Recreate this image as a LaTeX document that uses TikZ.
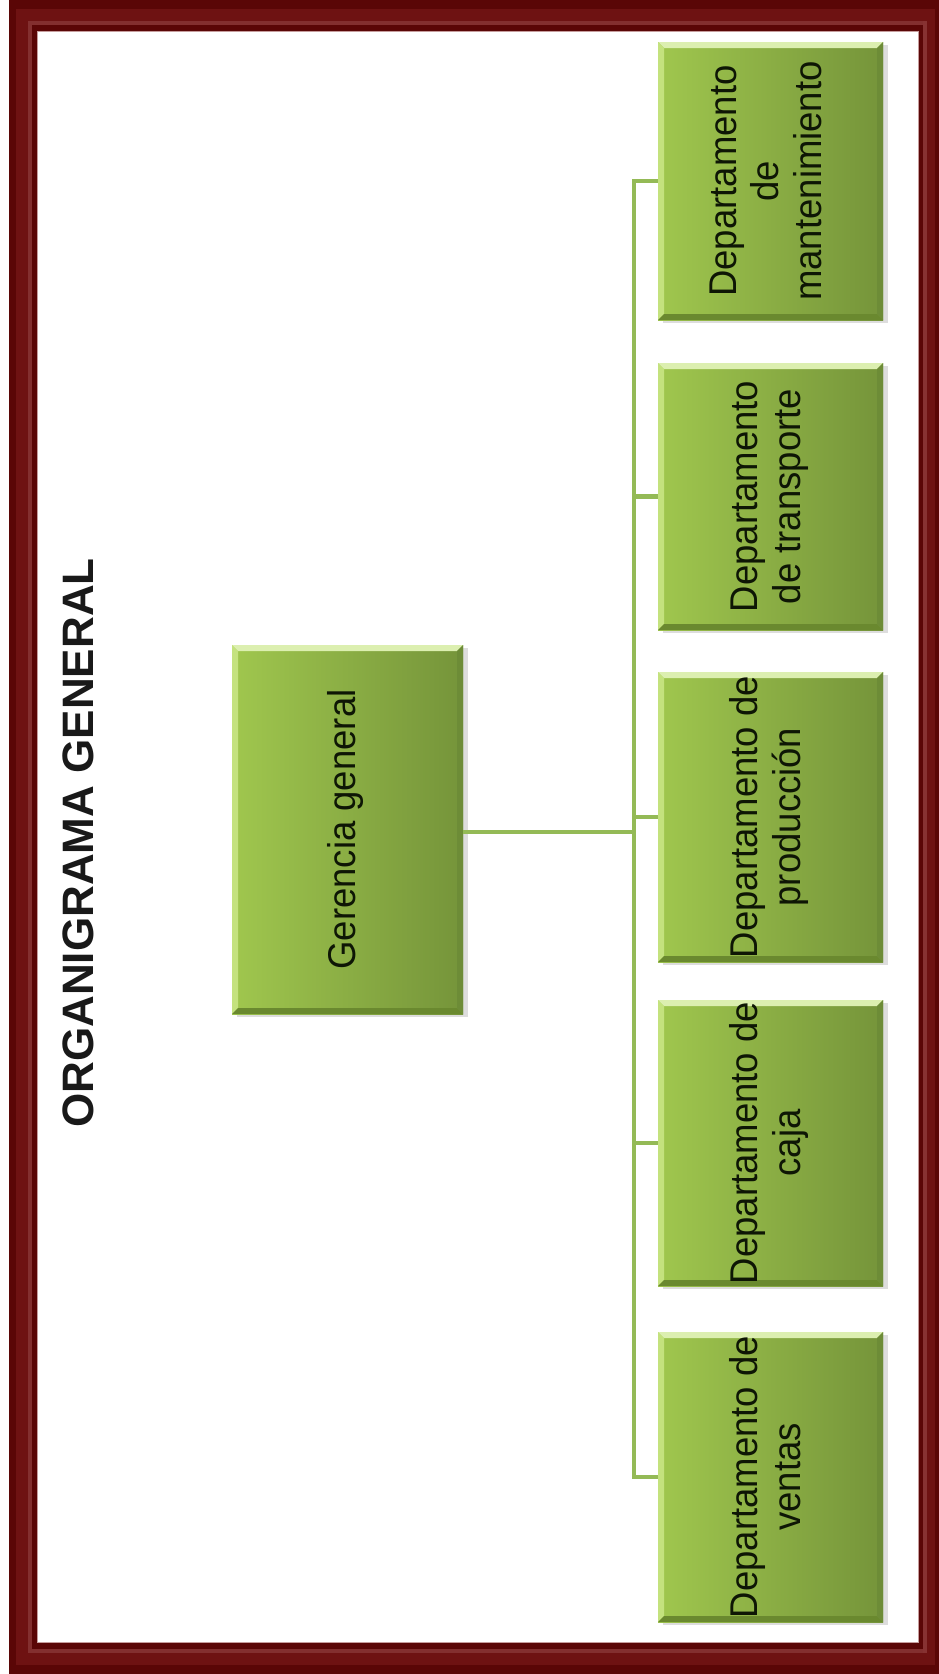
\documentclass[tikz,border=0pt]{standalone}
\usepackage{fontspec}
\setmainfont{Liberation Sans}
\usetikzlibrary{shadows}

\definecolor{frameDark}{HTML}{5A0606}
\definecolor{frameMid}{HTML}{6E1212}
\definecolor{frameLight}{HTML}{8E3A3A}
\definecolor{boxL}{HTML}{A0C74E}
\definecolor{boxR}{HTML}{75943A}
\definecolor{bevTop}{HTML}{DCEFB0}
\definecolor{bevLeft}{HTML}{C4E27E}
\definecolor{bevBottom}{HTML}{6A892F}
\definecolor{bevRight}{HTML}{6D8C37}
\definecolor{connG}{HTML}{94BA56}
\definecolor{txt}{HTML}{0E1605}

\newcommand{\boxfont}{\fontsize{36.5}{40}\selectfont}
\newcommand{\lbl}[1]{\rotatebox{90}{\scalebox{1}[1.06]{\boxfont\begin{tabular}{@{}c@{}}#1\end{tabular}}}}

\begin{document}
\begin{tikzpicture}[x=1pt, y=-1pt,
  box/.style={rectangle, inner sep=0pt, text=txt,
    left color=boxL, right color=boxR,
    drop shadow={shadow xshift=5pt, shadow yshift=-3pt, opacity=0.22, fill=black!60},
    path picture={
      \fill[bevTop] (path picture bounding box.north west)
        -- (path picture bounding box.north east)
        -- ([xshift=-6pt,yshift=-6pt]path picture bounding box.north east)
        -- ([xshift=6pt,yshift=-6pt]path picture bounding box.north west) -- cycle;
      \fill[bevLeft] (path picture bounding box.north west)
        -- ([xshift=6pt,yshift=-6pt]path picture bounding box.north west)
        -- ([xshift=6pt,yshift=6pt]path picture bounding box.south west)
        -- (path picture bounding box.south west) -- cycle;
      \fill[bevBottom] (path picture bounding box.south west)
        -- (path picture bounding box.south east)
        -- ([xshift=-6pt,yshift=6pt]path picture bounding box.south east)
        -- ([xshift=6pt,yshift=6pt]path picture bounding box.south west) -- cycle;
      \fill[bevRight] (path picture bounding box.north east)
        -- (path picture bounding box.south east)
        -- ([xshift=-6pt,yshift=6pt]path picture bounding box.south east)
        -- ([xshift=-6pt,yshift=-6pt]path picture bounding box.north east) -- cycle;
    }},
  deptbox/.style={box, minimum width=225pt},
  conn/.style={draw=connG, line width=4.5pt},
  titletext/.style={font=\fontsize{44}{48}\bfseries\selectfont, text=black!90, rotate=90, inner sep=0pt}
]
\useasboundingbox (0,0) rectangle (939,1674);

% picture frame
\fill[white] (0,0) rectangle (939,1674);
\fill[frameDark] (9,0) rectangle (939,1674);
\draw[frameMid, line width=12pt] (22,15) rectangle (929,1659);
\draw[frameLight, line width=3.5pt, opacity=0.8] (30,23) rectangle (925,1651);
\fill[white] (37,31) rectangle (918,1642);
\draw[frameLight!50!white, line width=1pt] (37,31) rectangle (918,1642);

% title
\node[titletext] (title) at (78,843) {ORGANIGRAMA GENERAL};

% boxes
\node[box, minimum width=231pt, minimum height=369pt] (g) at (347.5,829.5) {\lbl{Gerencia general}};
\node[deptbox, minimum height=278pt] (d1) at (770.5,181)   {\lbl{Departamento\\de\\mantenimiento}};
\node[deptbox, minimum height=267pt] (d2) at (770.5,496.5) {\lbl{Departamento\\de transporte}};
\node[deptbox, minimum height=290pt] (d3) at (770.5,817)   {\lbl{Departamento de\\producción}};
\node[deptbox, minimum height=286pt] (d4) at (770.5,1143)  {\lbl{Departamento de\\caja}};
\node[deptbox, minimum height=290pt] (d5) at (770.5,1477)  {\lbl{Departamento de\\ventas}};

% connectors
\coordinate (bus) at (634,832);
\draw[conn] (g.east |- bus) -- (bus);
\draw[conn] (d1.west) -- (d1.west -| bus) -- (d5.west -| bus) -- (d5.west);
\draw[conn] (d2.west -| bus) -- (d2.west);
\draw[conn] (d3.west -| bus) -- (d3.west);
\draw[conn] (d4.west -| bus) -- (d4.west);
\end{tikzpicture}
\end{document}
